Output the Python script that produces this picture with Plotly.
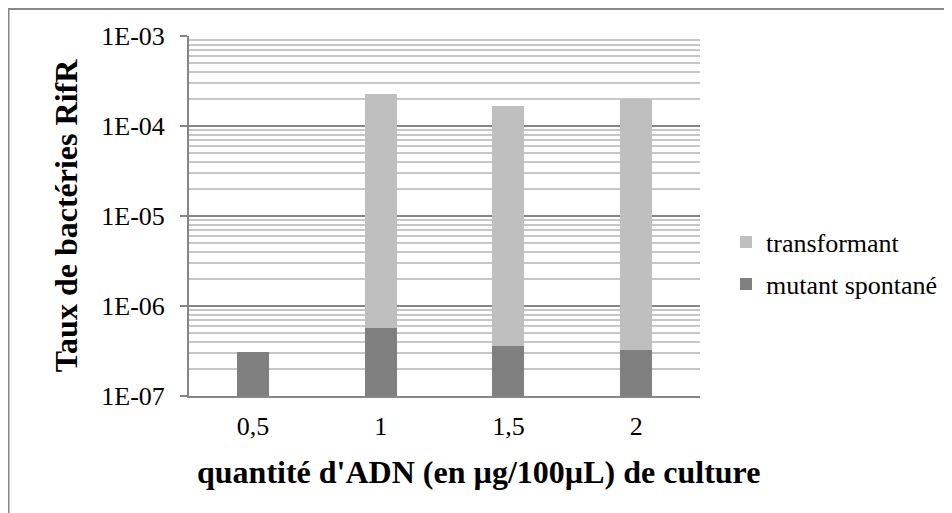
import plotly.graph_objects as go

categories = ["0,5", "1", "1,5", "2"]
mutant_spontane = [3.05e-7, 5.7e-7, 3.6e-7, 3.25e-7]
transformant = [0, 2.26e-4, 1.66e-4, 2.0e-4]
major_ticks = [1e-7, 1e-6, 1e-5, 1e-4, 1e-3]
major_labels = ["1E-07", "1E-06", "1E-05", "1E-04", "1E-03"]
x_title = "<b>quantité d'ADN (en µg/100µL) de culture</b>"
y_title = "<b>Taux de bactéries RifR</b>"

minor_ticks = [m * 10.0 ** k for k in range(-7, -3) for m in range(2, 10)]

# page offset (body margin) compensation
OFF = 8
W, H = 952, 513
L, R, T, B = 189 - OFF, 700 - OFF, 36 - OFF, 396 - OFF
pw, ph = R - L, B - T


def px(x):
    return (x - OFF - L) / pw


def py(y):
    return (B - (y - OFF)) / ph


FONT = "Liberation Serif, Times New Roman, serif"

fig = go.Figure()
fig.add_trace(go.Bar(
    x=categories, y=mutant_spontane, name="mutant spontané",
    marker=dict(color="#808080", line=dict(width=0)), legend="legend2",
))
fig.add_trace(go.Bar(
    x=categories, y=transformant, name="transformant",
    marker=dict(color="#bfbfbf", line=dict(width=0)), legend="legend",
))

fig.update_layout(
    width=W, height=H,
    margin=dict(l=L, r=W - R, t=T, b=H - B, autoexpand=False),
    paper_bgcolor="white", plot_bgcolor="white",
    barmode="stack", bargap=0.75,
    font=dict(family=FONT, color="black", size=26),
    showlegend=True,
    legend=dict(x=px(726), y=py(242), xanchor="left", yanchor="middle",
                font=dict(family=FONT, size=26, color="black"),
                bgcolor="rgba(0,0,0,0)", itemwidth=30),
    legend2=dict(x=px(726), y=py(284), xanchor="left", yanchor="middle",
                 font=dict(family=FONT, size=26, color="black"),
                 bgcolor="rgba(0,0,0,0)", itemwidth=30),
    xaxis=dict(
        type="category", showgrid=False, showline=True, linecolor="#868686",
        linewidth=2, ticks="", tickfont=dict(family=FONT, size=26),
        ticklabelstandoff=6,
    ),
    yaxis=dict(
        type="log", range=[-7, -3], tickvals=major_ticks, ticktext=major_labels,
        showline=True, linecolor="#868686", linewidth=2,
        ticks="outside", ticklen=7, tickcolor="#868686", tickwidth=2,
        showgrid=True, gridcolor="#868686", gridwidth=1.5,
        tickfont=dict(family=FONT, size=26), ticklabelstandoff=10,
        minor=dict(tickmode="array", tickvals=minor_ticks, showgrid=True,
                   gridcolor="#c6c6c6", gridwidth=1.5, ticks=""),
        zeroline=False,
        title=dict(text=y_title, font=dict(family=FONT, size=32), standoff=14),
    ),
    annotations=[
        dict(text=x_title, xref="paper", yref="paper", x=px(478), y=py(472),
             xanchor="center", yanchor="middle", showarrow=False,
             font=dict(family=FONT, size=32, color="black")),
    ],
    shapes=[
        dict(type="rect", xref="paper", yref="paper",
             x0=px(OFF + 0.5), x1=px(W + 30), y0=py(H + 30), y1=py(OFF + 1),
             line=dict(color="#868686", width=2), fillcolor="rgba(0,0,0,0)",
             layer="below"),
    ],
)

fig.write_html("out.html")
